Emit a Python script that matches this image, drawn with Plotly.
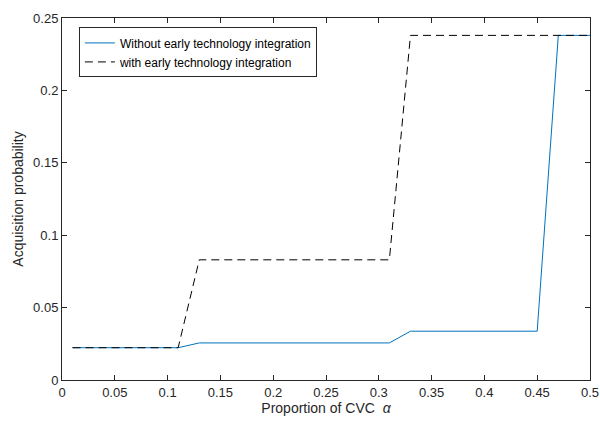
import plotly.graph_objects as go

alpha = [0.01, 0.03, 0.05, 0.07, 0.09, 0.11, 0.13, 0.15, 0.17, 0.19, 0.21, 0.23, 0.25,
         0.27, 0.29, 0.31, 0.33, 0.35, 0.37, 0.39, 0.41, 0.43, 0.45, 0.47, 0.49, 0.50]
without_eti = [0.0223, 0.0223, 0.0223, 0.0223, 0.0223, 0.0223, 0.0256, 0.0256, 0.0256,
               0.0256, 0.0256, 0.0256, 0.0256, 0.0256, 0.0256, 0.0256, 0.0337, 0.0337,
               0.0337, 0.0337, 0.0337, 0.0337, 0.0337, 0.238, 0.238, 0.238]
with_eti = [0.0223, 0.0223, 0.0223, 0.0223, 0.0223, 0.0223, 0.083, 0.083, 0.083,
            0.083, 0.083, 0.083, 0.083, 0.083, 0.083, 0.083, 0.238, 0.238,
            0.238, 0.238, 0.238, 0.238, 0.238, 0.238, 0.238, 0.238]

x_ticks = [0, 0.05, 0.1, 0.15, 0.2, 0.25, 0.3, 0.35, 0.4, 0.45, 0.5]
x_ticktext = ["0", "0.05", "0.1", "0.15", "0.2", "0.25", "0.3", "0.35", "0.4", "0.45", "0.5"]
y_ticks = [0, 0.05, 0.1, 0.15, 0.2, 0.25]
y_ticktext = ["0", "0.05", "0.1", "0.15", "0.2", "0.25"]

fig = go.Figure()
fig.add_trace(go.Scatter(x=alpha, y=without_eti, mode="lines",
                         name="Without early technology integration",
                         line=dict(color="#0072BD", width=1)))
fig.add_trace(go.Scatter(x=alpha, y=with_eti, mode="lines",
                         name="with early technology integration",
                         line=dict(color="black", width=1, dash="8px,5px")))

axis_common = dict(showline=True, mirror="ticks", linecolor="#262626", linewidth=1,
                   ticks="inside", ticklen=5, tickcolor="#262626", showgrid=False,
                   zeroline=False, automargin=False,
                   tickfont=dict(size=13, color="#262626"))

fig.update_layout(
    width=600, height=424,
    margin=dict(l=62, r=10, t=18, b=44),
    paper_bgcolor="white", plot_bgcolor="white",
    font=dict(family="Liberation Sans, Arial, sans-serif", color="#262626"),
    xaxis=dict(range=[0, 0.5], tickvals=x_ticks, ticktext=x_ticktext,
               title=dict(text="Proportion of CVC  <i>α</i>", font=dict(size=14), standoff=4),
               **axis_common),
    yaxis=dict(range=[0, 0.25], tickvals=y_ticks, ticktext=y_ticktext,
               title=dict(text="Acquisition probability", font=dict(size=14), standoff=6),
               **axis_common),
    legend=dict(x=0.032, y=0.974, xanchor="left", yanchor="top",
                bordercolor="#262626", borderwidth=1, bgcolor="white",
                font=dict(size=12, color="black"), tracegroupgap=0,
                itemwidth=30),
    showlegend=True,
)

fig.write_html("out.html")
